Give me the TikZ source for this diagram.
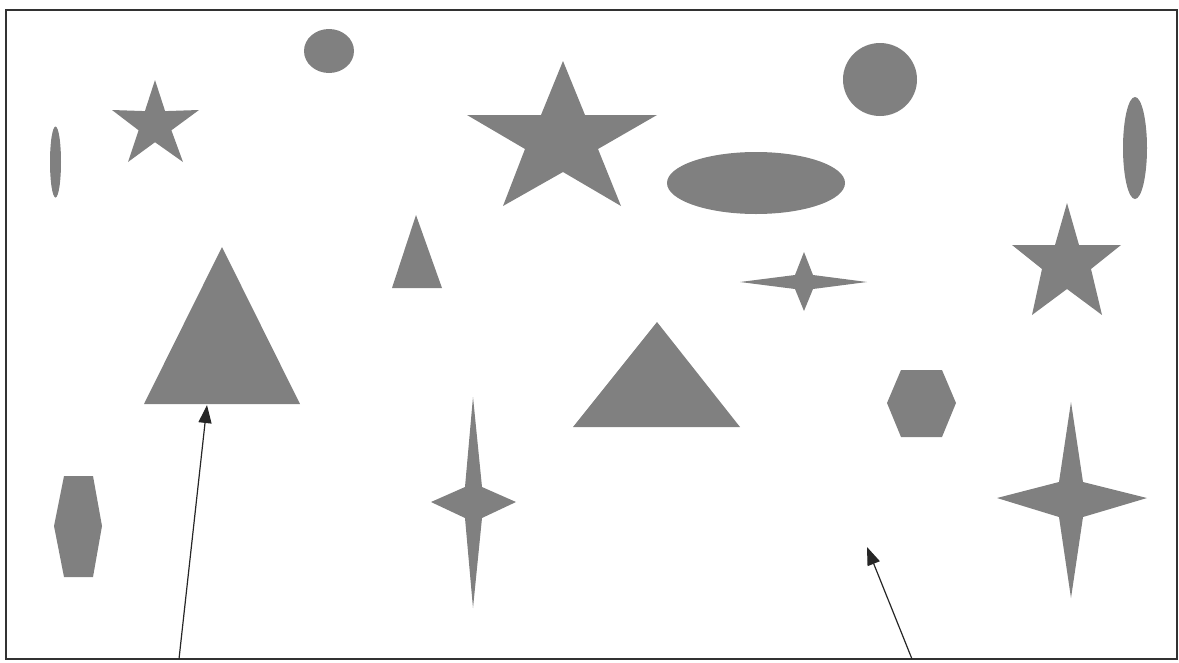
\documentclass[tikz,border=0pt]{standalone}
\usepackage{tikz}
\usetikzlibrary{arrows.meta}

\definecolor{shapegray}{RGB}{128,128,128}
\definecolor{framegray}{RGB}{50,50,50}

\tikzset{
  shapefill/.style={fill=shapegray},
  pointer/.style={-{Triangle[length=18pt,width=13pt]}, line width=1.2pt, black!85}
}

\begin{document}
\begin{tikzpicture}[x=1pt, y=-1pt]
\useasboundingbox (0,0) rectangle (1179,662);
% Frame
\draw[framegray, line width=2pt] (6,10) rectangle (1177,659);
% Ellipses and circles
\fill[shapefill] (55.5,162) ellipse [x radius=5.5, y radius=35.5];
\fill[shapefill] (329,51) ellipse [x radius=25, y radius=22];
\fill[shapefill] (880,79.5) ellipse [x radius=37, y radius=36.5];
\fill[shapefill] (1135,148) ellipse [x radius=12, y radius=51];
\fill[shapefill] (756,183) ellipse [x radius=89, y radius=31];
% Five-pointed stars
\fill[shapefill] (155,80) -- (165.1,111.1) -- (199,110) -- (171.4,130.3) -- (183,162)
  -- (155,142.2) -- (128,162) -- (138.6,130.3) -- (112,110) -- (144.9,111.1) -- cycle;
\fill[shapefill] (563,61) -- (585,115) -- (657,115) -- (598,149) -- (621,206)
  -- (563,172) -- (503,206) -- (525,149) -- (467,115) -- (541,115) -- cycle;
\fill[shapefill] (1067,203) -- (1079,245) -- (1121,245) -- (1091,269) -- (1102,315)
  -- (1067,289) -- (1032,315) -- (1042,269) -- (1012,245) -- (1055,245) -- cycle;
% Triangles
\fill[shapefill] (416,215) -- (442,288) -- (392,288) -- cycle;
\fill[shapefill] (222,247) -- (300,404) -- (144,404) -- cycle;
\fill[shapefill] (657,322) -- (740,427) -- (573,427) -- cycle;
% Hexagons
\fill[shapefill] (901,370) -- (942,370) -- (956,403) -- (942,437) -- (901,437) -- (887,403) -- cycle;
\fill[shapefill] (64,476) -- (93,476) -- (102,526) -- (93,577) -- (64,577) -- (54,526) -- cycle;
% Four-pointed stars
\fill[shapefill] (804,252) -- (813,275) -- (867,282) -- (813,289) -- (804,311)
  -- (795,289) -- (740,282) -- (795,275) -- cycle;
\fill[shapefill] (473,397) -- (482,487) -- (516,502) -- (482,518) -- (473,608)
  -- (465,518) -- (431,502) -- (465,487) -- cycle;
\fill[shapefill] (1071,402) -- (1083,482) -- (1147,498) -- (1083,517) -- (1071,598)
  -- (1059,517) -- (997,498) -- (1059,482) -- cycle;
% Pointers from the bottom edge
\coordinate (tri base) at (207,405);
\coordinate (tri foot) at (179,659);
\coordinate (gap spot) at (867,547);
\coordinate (gap foot) at (912,659);
\draw[pointer] (tri foot) -- (tri base);
\draw[pointer] (gap foot) -- (gap spot);
\end{tikzpicture}
\end{document}
